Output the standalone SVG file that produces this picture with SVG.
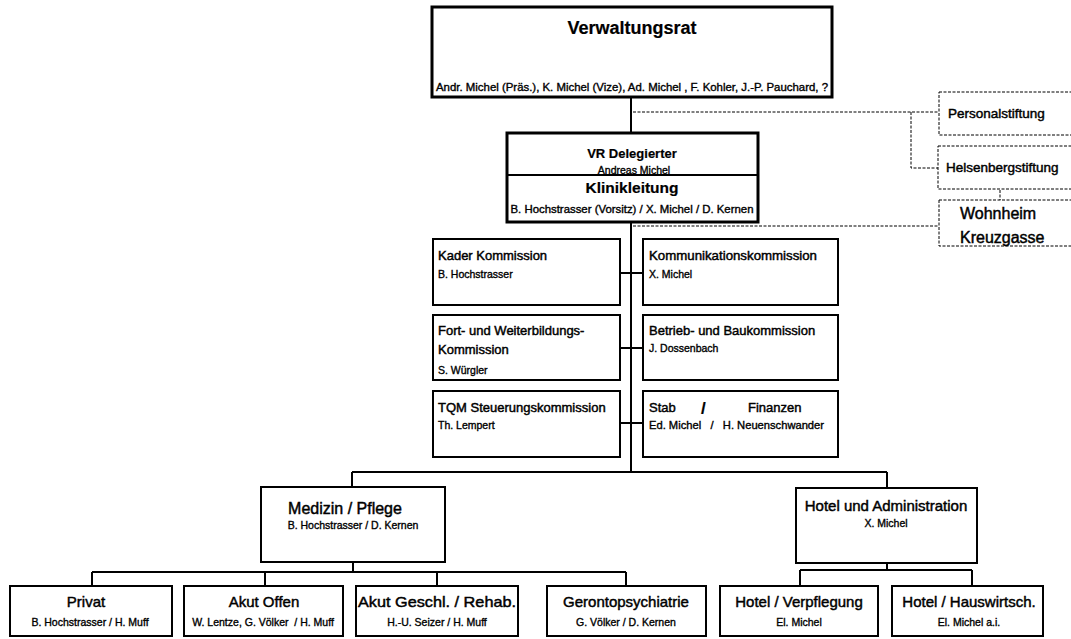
<svg xmlns="http://www.w3.org/2000/svg" width="1071" height="639" viewBox="0 0 1071 639">
<style>
text{font-family:"Liberation Sans",Arial,sans-serif;fill:#000;stroke:#000;stroke-width:0.45}
.box{fill:#fff;stroke:#000;stroke-width:2}
.thick{fill:#fff;stroke:#000;stroke-width:3}
.dbox{fill:#fff;stroke:#000;stroke-width:1;stroke-dasharray:3 1.5}
.ln{fill:none;stroke:#000;stroke-width:2}
.dl{fill:none;stroke:#000;stroke-width:1;stroke-dasharray:3 1.5}
.c{text-anchor:middle}
.b{font-weight:bold;stroke-width:0.2}
.t15{font-size:15px}
.t13{font-size:13px}
.s{font-size:10.5px;stroke-width:0.35}
</style>
<g id="connectors">
<path class="ln" d="M631 97V133M631 222V472M352 472H887M352 472V487M887 472V488"/>
<path class="ln" d="M620 273H643M620 348H643M620 423H643"/>
<path class="ln" d="M353 562V572M92 572H626M92 572V586M265 572V586M437 572V586M626 572V586"/>
<path class="ln" d="M887 563V570M800 570H972M800 570V586M972 570V586"/>
<path class="dl" d="M633 112H939M911 112V168H938M633 226H939M1000 190V200"/>
</g>
<g id="verwaltungsrat">
<rect class="thick" x="432" y="7" width="400" height="90"/>
<text class="c b" x="632" y="34" font-size="18">Verwaltungsrat</text>
<text class="c s" x="632" y="91" textLength="392" lengthAdjust="spacingAndGlyphs">Andr. Michel (Präs.), K. Michel (Vize), Ad. Michel , F. Kohler, J.-P. Pauchard, ?</text>
</g>
<g id="vr-delegierter">
<rect class="thick" x="507" y="133" width="251" height="89"/>
<line class="ln" x1="507" y1="175" x2="758" y2="175"/>
<text class="c b" x="632" y="158" font-size="13">VR Delegierter</text>
<text class="c s" x="634" y="174">Andreas Michel</text>
</g>
<g id="klinikleitung">
<text class="c b" x="632" y="193" font-size="15.5">Klinikleitung</text>
<text class="c s" x="632" y="213" textLength="243" lengthAdjust="spacingAndGlyphs">B. Hochstrasser (Vorsitz) / X. Michel / D. Kernen</text>
</g>
<g id="personalstiftung">
<rect class="dbox" x="939" y="92" width="140" height="43"/>
<text x="948" y="118" font-size="13.5">Personalstiftung</text>
</g>
<g id="helsenbergstiftung">
<rect class="dbox" x="938" y="146" width="140" height="43"/>
<text x="946" y="172" font-size="13.5">Helsenbergstiftung</text>
</g>
<g id="wohnheim">
<rect class="dbox" x="939" y="200" width="140" height="46"/>
<text x="960" y="219" font-size="16">Wohnheim</text>
<text x="960" y="243" font-size="16">Kreuzgasse</text>
</g>
<g id="kader">
<rect class="box" x="433" y="239" width="187" height="66"/>
<text class="t13" x="438" y="260">Kader Kommission</text>
<text class="s" x="438" y="278">B. Hochstrasser</text>
</g>
<g id="kommunikation">
<rect class="box" x="643" y="239" width="195" height="66"/>
<text class="t13" x="649" y="260" textLength="168" lengthAdjust="spacingAndGlyphs">Kommunikationskommission</text>
<text class="s" x="649" y="278">X. Michel</text>
</g>
<g id="fortbildung">
<rect class="box" x="433" y="315" width="187" height="65"/>
<text class="t13" x="438" y="335">Fort- und Weiterbildungs-</text>
<text class="t13" x="438" y="354">Kommission</text>
<text class="s" x="438" y="374">S. Würgler</text>
</g>
<g id="betrieb">
<rect class="box" x="643" y="315" width="195" height="65"/>
<text class="t13" x="649" y="335">Betrieb- und Baukommission</text>
<text class="s" x="649" y="352">J. Dossenbach</text>
</g>
<g id="tqm">
<rect class="box" x="433" y="391" width="187" height="66"/>
<text class="t13" x="438" y="412">TQM Steuerungskommission</text>
<text class="s" x="438" y="429">Th. Lempert</text>
</g>
<g id="stab">
<rect class="box" x="643" y="391" width="195" height="66"/>
<text class="t13" x="649" y="412">Stab</text>
<text class="b" x="701" y="414" font-size="17">/</text>
<text class="t13" x="748" y="412">Finanzen</text>
<text class="s" x="649" y="429" xml:space="preserve" textLength="175" lengthAdjust="spacingAndGlyphs">Ed. Michel   /   H. Neuenschwander</text>
</g>
<g id="medizin">
<rect class="box" x="261" y="487" width="184" height="75"/>
<text class="c" x="345" y="514" font-size="16">Medizin / Pflege</text>
<text class="c s" x="353" y="529">B. Hochstrasser / D. Kernen</text>
</g>
<g id="hotel-admin">
<rect class="box" x="796" y="488" width="181" height="75"/>
<text class="c t15" x="886" y="511">Hotel und Administration</text>
<text class="c s" x="886" y="527">X. Michel</text>
</g>
<g id="privat">
<rect class="box" x="10" y="586" width="162" height="50"/>
<text class="c t15" x="86" y="607">Privat</text>
<text class="c s" x="90" y="626">B. Hochstrasser / H. Muff</text>
</g>
<g id="akut-offen">
<rect class="box" x="184" y="586" width="159" height="50"/>
<text class="c t15" x="264" y="607">Akut Offen</text>
<text class="c s" x="263" y="626" xml:space="preserve">W. Lentze, G. Völker  / H. Muff</text>
</g>
<g id="akut-geschl">
<rect class="box" x="356" y="586" width="162" height="50"/>
<text class="c t15" x="437" y="607" textLength="158" lengthAdjust="spacingAndGlyphs">Akut Geschl. / Rehab.</text>
<text class="c s" x="437" y="626">H.-U. Seizer / H. Muff</text>
</g>
<g id="geronto">
<rect class="box" x="547" y="586" width="159" height="50"/>
<text class="c t15" x="626" y="607">Gerontopsychiatrie</text>
<text class="c s" x="626" y="626">G. Völker / D. Kernen</text>
</g>
<g id="hotel-verpflegung">
<rect class="box" x="720" y="586" width="158" height="50"/>
<text class="c t15" x="799" y="607">Hotel / Verpflegung</text>
<text class="c s" x="799" y="626">El. Michel</text>
</g>
<g id="hotel-hauswirtsch">
<rect class="box" x="892" y="586" width="151" height="50"/>
<text class="c t15" x="969" y="607">Hotel / Hauswirtsch.</text>
<text class="c s" x="969" y="626">El. Michel a.i.</text>
</g>
</svg>
